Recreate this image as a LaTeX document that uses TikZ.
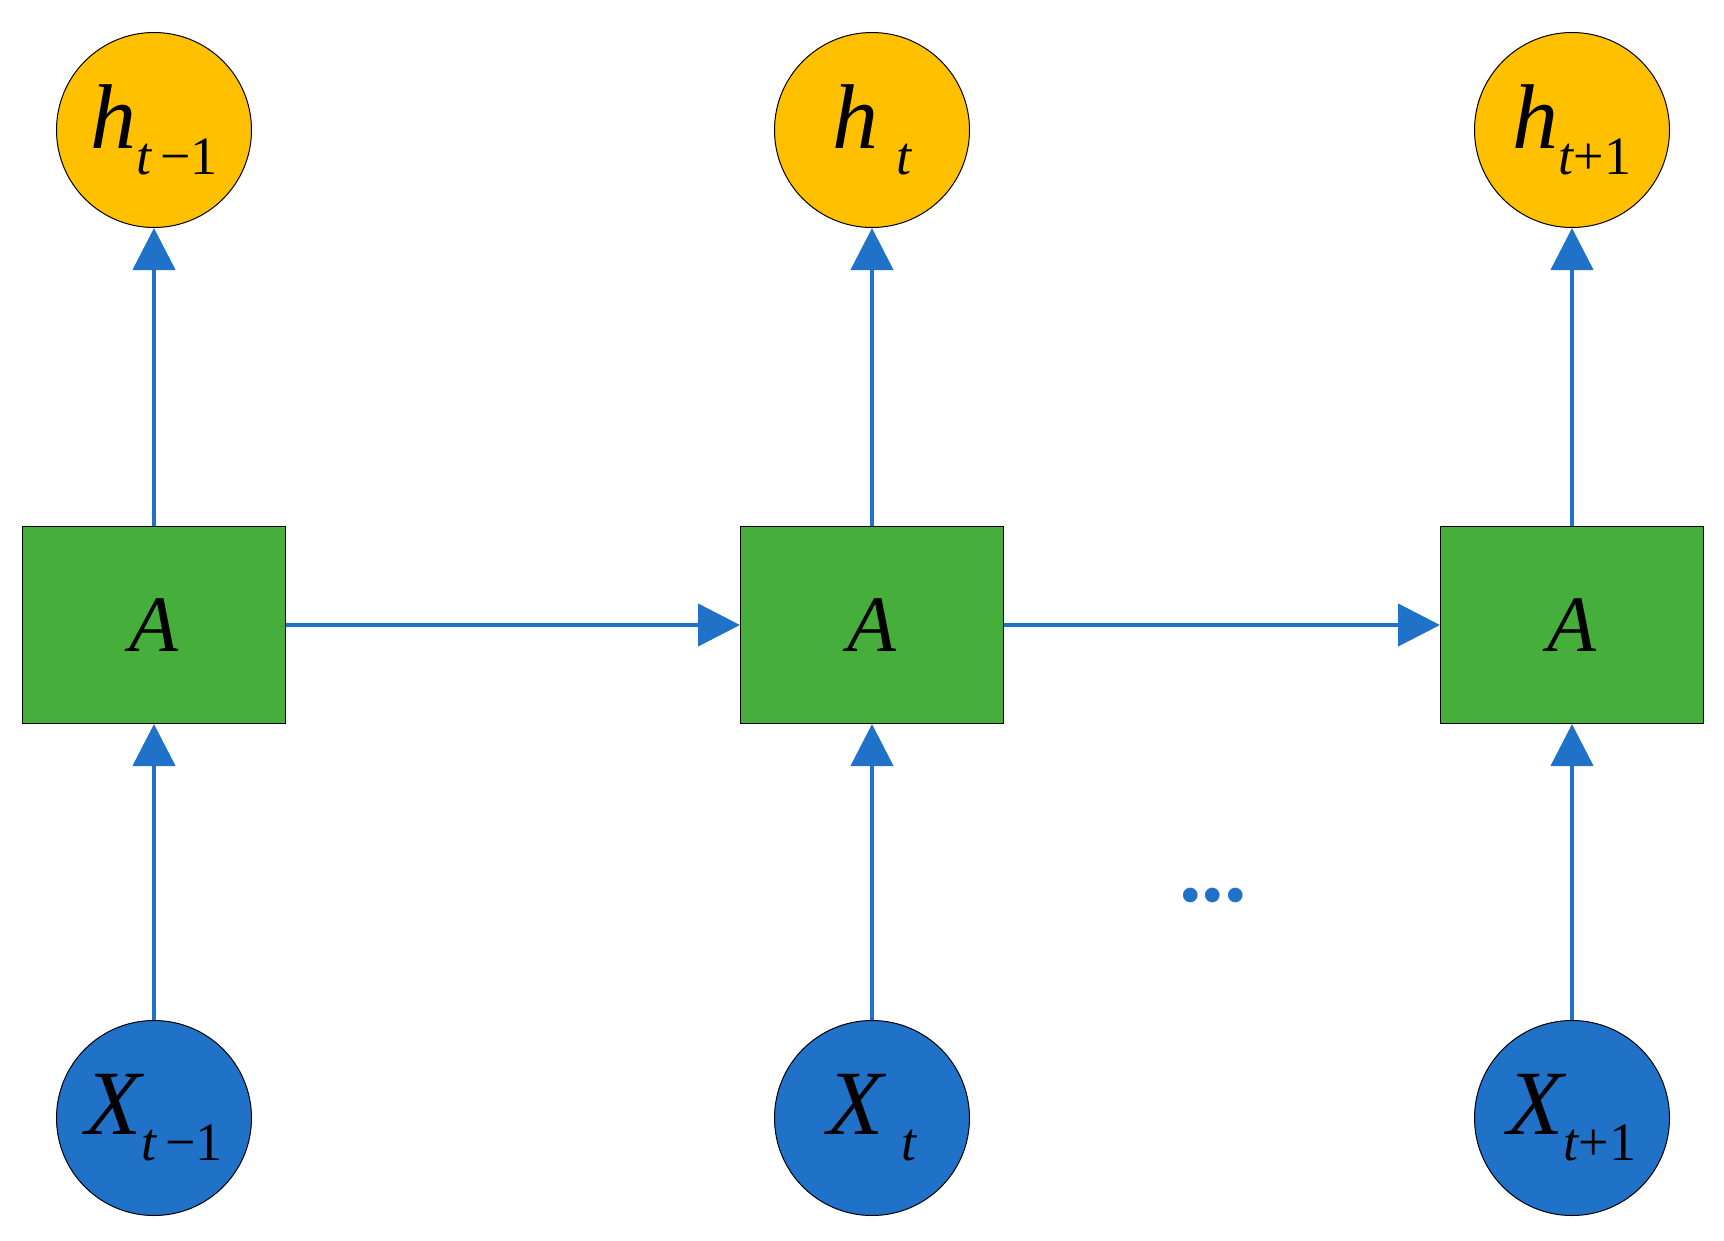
\documentclass[tikz,border=0pt]{standalone}
\usepackage{fontspec}
\setmainfont{Liberation Serif}
\usetikzlibrary{arrows.meta}
\definecolor{hy}{HTML}{FFC000}
\definecolor{xb}{HTML}{1F72C8}
\definecolor{ag}{HTML}{46AF3C}
\newcommand{\lab}[2]{{\fontsize{92}{92}\selectfont\itshape #1}\raisebox{-26pt}{\fontsize{54}{54}\selectfont #2}}
\begin{document}
\begin{tikzpicture}[x=1pt,y=-1pt,
 hn/.style={circle,draw=black,line width=1pt,fill=hy,minimum size=195pt,inner sep=0pt},
 xn/.style={circle,draw=black,line width=1pt,fill=xb,minimum size=195pt,inner sep=0pt},
 an/.style={rectangle,draw=black,line width=1pt,fill=ag,minimum width=263pt,minimum height=197pt,font=\fontsize{80}{80}\selectfont\itshape},
 ar/.style={draw=xb,line width=4.5pt,-{Triangle[length=42pt,width=42pt]}}]
\useasboundingbox (0,0) rectangle (1724,1240);
\foreach \i/\x/\s in {1/154/{\itshape t\,}\textminus1,2/872/\itshape\,\,t,3/1572/{\itshape t}+1}{
 \node[hn] (h\i) at (\x,130) {\lab{h}{\s}};
 \node[an] (a\i) at (\x,625) {A};
 \node[xn] (x\i) at (\x,1118) {\lab{X}{\s}};
 \draw[ar] (a\i) -- (h\i);
 \draw[ar] (x\i) -- (a\i);
}
\draw[ar] (a1) -- (a2);
\draw[ar] (a2) -- (a3);
\node[text=xb,font=\fontsize{90}{90}\selectfont\bfseries] (dots) at (1213,895) {...};
\end{tikzpicture}
\end{document}
